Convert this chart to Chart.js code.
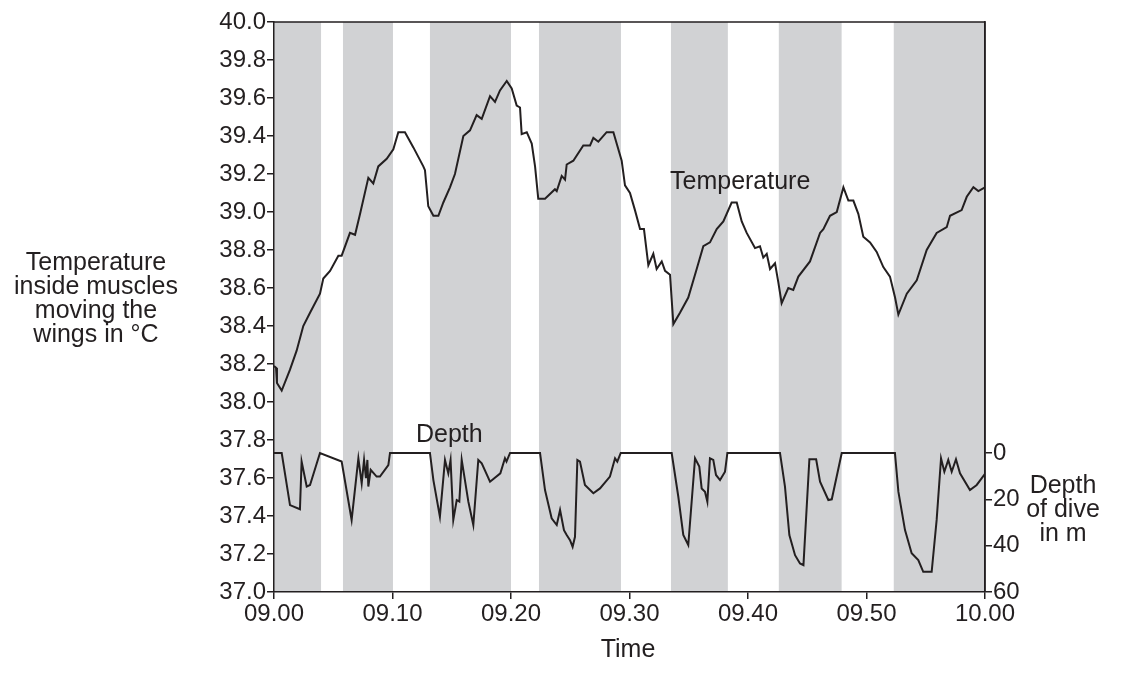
<!DOCTYPE html>
<html lang="en">
<head>
    <meta charset="UTF-8">
    <title>Temperature and depth of dive</title>
    <script src="https://cdn.jsdelivr.net/npm/chart.js"></script>
    <style>
        body {
            margin: 0;
            background-color: #ffffff;
        }
        canvas {
            display: block;
        }
    </style>
</head>
<body>
    <canvas id="diveChart" width="1128" height="681"></canvas>

    <script>
        // time in minutes after 09.00
        const tempMinutes = [0, 0.17, 0.25, 0.65, 1.35, 1.91, 2.47, 3.04, 3.88, 4.16, 4.73, 5.43, 5.71, 6.41, 6.84, 7.26, 7.96, 8.38, 8.8, 9.51,
            10.07, 10.49, 11.05, 11.76, 12.6, 12.74, 13.02, 13.45, 13.87, 14.29, 14.85, 15.27, 15.98, 16.54, 17.1, 17.53, 18.23, 18.65, 19.07, 19.64,
            20.06, 20.48, 20.76, 20.9, 21.33, 21.75, 22.03, 22.3, 22.87, 23.71, 23.86, 24.28, 24.56, 24.7, 25.26, 26.1, 26.67, 26.95, 27.37, 28.07,
            28.64, 29.34, 29.62, 30.04, 30.46, 30.89, 31.22, 31.59, 32.01, 32.29, 32.72, 33.0, 33.42, 33.7, 34.26, 34.96, 35.67, 36.23, 36.79, 37.36,
            37.92, 38.62, 39.05, 39.47, 39.89, 40.59, 41.01, 41.29, 41.58, 41.86, 42.28, 42.56, 42.84, 43.4, 43.82, 44.25, 45.23, 46.08, 46.36, 46.92,
            47.49, 48.05, 48.47, 48.89, 49.31, 49.73, 50.3, 50.86, 51.42, 51.98, 52.41, 52.69, 53.4, 54.24, 55.08, 55.92, 56.77, 57.05, 58.03, 58.46,
            59.02, 59.44, 60];
        const tempValues = [38.19, 38.18, 38.10, 38.06, 38.17, 38.27, 38.40, 38.47, 38.57, 38.65, 38.69, 38.77, 38.77, 38.89, 38.88, 38.99, 39.18, 39.15, 39.24, 39.28,
            39.33, 39.42, 39.42, 39.34, 39.24, 39.22, 39.03, 38.98, 38.98, 39.05, 39.13, 39.20, 39.40, 39.43, 39.51, 39.49, 39.61, 39.58, 39.64, 39.69,
            39.65, 39.56, 39.55, 39.41, 39.42, 39.36, 39.24, 39.07, 39.07, 39.12, 39.11, 39.19, 39.17, 39.25, 39.27, 39.35, 39.35, 39.39, 39.37, 39.42,
            39.42, 39.27, 39.14, 39.10, 39.01, 38.91, 38.91, 38.72, 38.78, 38.70, 38.74, 38.69, 38.67, 38.41, 38.47, 38.55, 38.70, 38.82, 38.84, 38.91,
            38.95, 39.05, 39.05, 38.95, 38.89, 38.81, 38.82, 38.76, 38.78, 38.70, 38.73, 38.63, 38.52, 38.60, 38.59, 38.66, 38.74, 38.89, 38.91, 38.98,
            39.00, 39.13, 39.06, 39.06, 38.99, 38.87, 38.84, 38.79, 38.71, 38.66, 38.55, 38.46, 38.57, 38.64, 38.80, 38.89, 38.92, 38.98, 39.01, 39.08,
            39.13, 39.11, 39.13];

        const depthMinutes = [0, 0.65, 1.35, 2.19, 2.33, 2.76, 3.04, 3.88, 5.71, 6.55, 7.12, 7.4, 7.6, 7.76, 7.88, 7.96, 8.16, 8.66, 8.94, 9.65,
            9.79, 13.16, 13.45, 14.0, 14.43, 14.71, 14.9, 15.13, 15.42, 15.64, 15.84, 16.4, 16.82, 17.24, 17.53, 18.23, 19.1, 19.49, 19.62, 19.92,
            22.45, 22.87, 23.43, 23.86, 24.14, 24.47, 24.7, 24.98, 25.2, 25.4, 25.6, 25.82, 26.24, 26.95, 27.51, 28.35, 28.78, 28.97, 29.26,
            33.56, 34.12, 34.54, 34.96, 35.53, 35.89, 36.09, 36.37, 36.57, 36.79, 37.07, 37.3, 37.64, 38.06, 38.26,
            42.7, 43.12, 43.49, 43.97, 44.39, 44.68, 45.18, 45.75, 46.08, 46.78, 47.07, 47.91,
            52.4, 52.69, 53.25, 53.81, 54.37, 54.79, 55.5, 55.92, 56.29, 56.57, 56.9, 57.19, 57.55, 57.89, 58.73, 59.3, 60];
        const depthValues = [0, 0, 22.5, 24.3, 3.7, 14.5, 13.8, 0, 3.7, 28.9, 2.3, 13.1, 3, 10.9, 3, 14.5, 7.3, 10.2, 10.2, 5.2,
            0, 0, 11.7, 27.5, 3, 8.8, 3, 28.9, 20.3, 21, 3, 21, 31.1, 3, 4.5, 12.4, 8.8, 2.3, 3.7, 0,
            0, 16, 28.2, 31.1, 24.6, 33.3, 35.4, 37.6, 40.5, 36.2, 3, 3.7, 13.8, 17.4, 15.3, 10.2, 2.3, 3.7, 0,
            0, 18.9, 35.4, 39.7, 2.3, 5.9, 15.3, 16.7, 21, 2.3, 3, 9.5, 11.7, 8.1, 0,
            0, 14.5, 35.4, 44.1, 47.7, 48.4, 2.7, 2.7, 12.4, 20.3, 20, 0,
            0, 16.7, 33.3, 43.3, 46.2, 51.3, 51.3, 28.9, 2.3, 8.1, 3, 8.1, 2.7, 8.8, 16, 13.8, 9];

        // grey shaded periods (minutes after 09.00)
        const bandStarts = [0, 5.82, 13.16, 22.36, 33.5, 42.6, 52.3];
        const bandEnds = [3.97, 10.04, 20.0, 29.28, 38.3, 47.9, 60];

        const timeLabels = ['09.00', '09.10', '09.20', '09.30', '09.40', '09.50', '10.00'];
        const depthTicks = [0, 20, 40, 60];

        const FONT = 'Liberation Sans, Arial, sans-serif';
        const INK = '#231f20';

        function toPoints(xs, ys) {
            return xs.map((x, i) => ({ x: x, y: ys[i] }));
        }

        const bandsPlugin = {
            id: 'bands',
            beforeDraw(chart) {
                const ctx = chart.ctx;
                const area = chart.chartArea;
                const xs = chart.scales.x;
                ctx.save();
                ctx.fillStyle = '#d1d2d4';
                for (let i = 0; i < bandStarts.length; i++) {
                    const x1 = xs.getPixelForValue(bandStarts[i]);
                    const x2 = xs.getPixelForValue(bandEnds[i]);
                    ctx.fillRect(x1, area.top, x2 - x1, area.bottom - area.top);
                }
                ctx.restore();
            }
        };

        const textPlugin = {
            id: 'texts',
            afterDraw(chart) {
                const ctx = chart.ctx;
                const area = chart.chartArea;
                ctx.save();
                // frame top and right
                ctx.strokeStyle = INK;
                ctx.lineWidth = 1.5;
                ctx.beginPath();
                ctx.moveTo(area.left, area.top);
                ctx.lineTo(area.right, area.top);
                ctx.lineTo(area.right, area.bottom);
                ctx.stroke();

                ctx.fillStyle = INK;
                ctx.font = '25px ' + FONT;
                ctx.textBaseline = 'middle';
                ctx.textAlign = 'center';
                const leftTitle = ['Temperature', 'inside muscles', 'moving the', 'wings in °C'];
                leftTitle.forEach((t, i) => ctx.fillText(t, 96, 263 + i * 24));
                const rightTitle = ['Depth', 'of dive', 'in m'];
                rightTitle.forEach((t, i) => ctx.fillText(t, 1063, 486 + i * 24));
                ctx.fillText('Time', 628, 650);

                ctx.textAlign = 'left';
                ctx.textBaseline = 'alphabetic';
                ctx.fillText('Temperature', 670, 189);
                ctx.fillText('Depth', 416, 442);
                ctx.restore();
            }
        };

        const ctx = document.getElementById('diveChart').getContext('2d');
        const chart = new Chart(ctx, {
            type: 'line',
            data: {
                datasets: [
                    {
                        label: 'Temperature',
                        data: toPoints(tempMinutes, tempValues),
                        yAxisID: 'y',
                        borderColor: INK,
                        borderWidth: 2,
                        pointRadius: 0,
                        tension: 0
                    },
                    {
                        label: 'Depth',
                        data: toPoints(depthMinutes, depthValues),
                        yAxisID: 'yDepth',
                        borderColor: INK,
                        borderWidth: 2,
                        pointRadius: 0,
                        tension: 0
                    }
                ]
            },
            options: {
                responsive: false,
                animation: false,
                layout: { padding: { top: 22, left: 0, right: 0, bottom: 0 } },
                plugins: {
                    legend: { display: false },
                    tooltip: { enabled: false }
                },
                scales: {
                    x: {
                        type: 'linear',
                        min: 0,
                        max: 60,
                        afterFit(scale) { scale.height = 89; },
                        ticks: {
                            stepSize: 10,
                            color: INK,
                            font: { family: FONT, size: 24 },
                            padding: 1,
                            maxRotation: 0,
                            callback: (v) => timeLabels[Math.round(v / 10)]
                        },
                        grid: { drawOnChartArea: false, color: INK, tickLength: 7, lineWidth: 1.5 },
                        border: { color: INK, width: 1.5 }
                    },
                    y: {
                        position: 'left',
                        min: 37,
                        max: 40,
                        afterFit(scale) { scale.width = 274; },
                        ticks: {
                            stepSize: 0.2,
                            color: INK,
                            font: { family: FONT, size: 24 },
                            padding: 1,
                            callback: (v) => v.toFixed(1)
                        },
                        grid: { drawOnChartArea: false, color: INK, tickLength: 7, lineWidth: 1.5 },
                        border: { color: INK, width: 1.5 }
                    },
                    yDepth: {
                        position: 'right',
                        reverse: true,
                        min: -186,
                        max: 60,
                        afterFit(scale) { scale.width = 143; },
                        afterBuildTicks(scale) {
                            scale.ticks = depthTicks.map(v => ({ value: v }));
                        },
                        ticks: {
                            color: INK,
                            font: { family: FONT, size: 24 },
                            padding: 1
                        },
                        grid: { drawOnChartArea: false, color: INK, tickLength: 7, lineWidth: 1.5 },
                        border: { color: INK, width: 1.5 }
                    }
                }
            },
            plugins: [bandsPlugin, textPlugin]
        });
    </script>
</body>
</html>
